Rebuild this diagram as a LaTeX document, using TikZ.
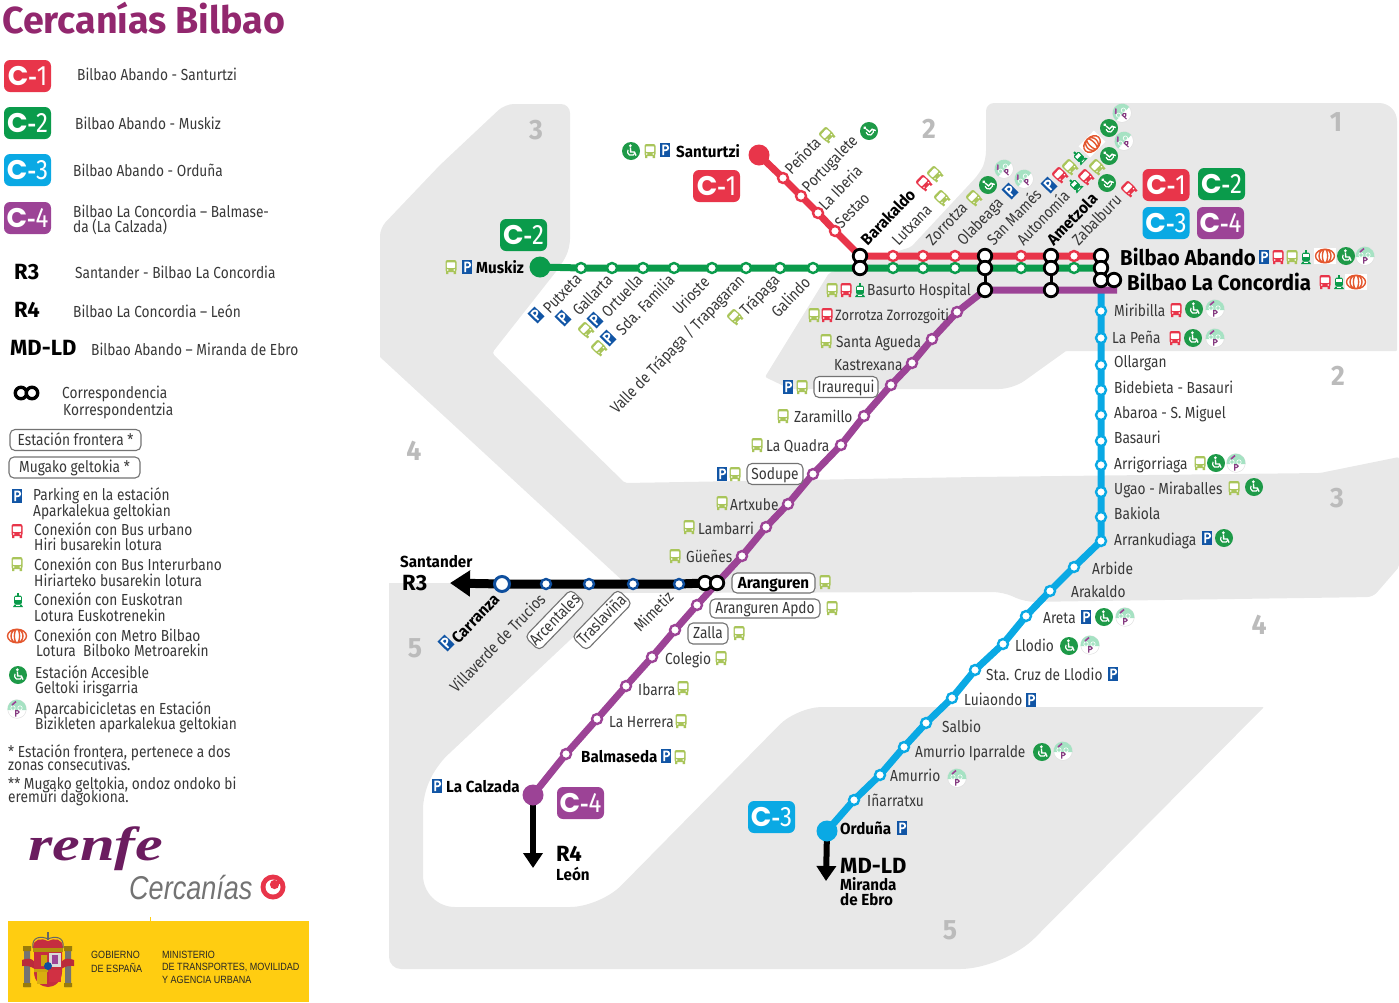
\documentclass[tikz,border=0pt]{standalone}
\usepackage{fontspec}
\usetikzlibrary{arrows.meta,backgrounds}
\setmainfont{Fira Sans}[UprightFeatures={FakeStretch=0.857},BoldFeatures={FakeStretch=0.95}]
\newfontfamily\heavy{Fira Sans}
\newfontfamily\badgeC{Poppins}
\newfontfamily\logoA{Liberation Serif}[FakeStretch=1.3]
\newfontfamily\logoB{Liberation Sans}[FakeStretch=0.82]
\newfontfamily\govt{Liberation Sans}[FakeStretch=0.86]
\definecolor{cA}{HTML}{E8354A}
\definecolor{cB}{HTML}{0A9B4B}
\definecolor{cC}{HTML}{0AA9E4}
\definecolor{cD}{HTML}{9C4396}
\definecolor{cR}{HTML}{0F4F9E}
\definecolor{zone}{HTML}{E8E8E8}
\definecolor{zonum}{HTML}{BBBBBB}
\definecolor{gb}{HTML}{A9C55A}
\definecolor{rb}{HTML}{E8354A}
\definecolor{txt}{HTML}{383838}
\definecolor{met}{HTML}{E4572E}
\definecolor{acg}{HTML}{1E9A48}
\definecolor{pkb}{HTML}{1155A5}
\definecolor{ttl}{HTML}{92276E}
\definecolor{rnf}{HTML}{6B1C5F}
\definecolor{gov}{HTML}{FFCD11}
\newcommand\badge[4]{\node[badgebox,fill=#2] (#1) at (#3,#4) {{\badgeC\bfseries\fontsize{27}{27}\selectfont C}{\fontsize{22}{22}\selectfont\bfseries -}{\fontsize{28}{28}\selectfont\badgenum}};}
\newcommand\badgenum{}
\newcommand\LW[4]{\node[lbl,anchor=west] (#1) at (#2,#3) {#4};}
\newcommand\BW[4]{\node[lbl,font=\fontsize{16}{16}\selectfont\bfseries,text=black,anchor=west] (#1) at (#2,#3) {#4};}
\newcommand\RL[4]{\node[lbl,anchor=east,rotate=46] (#1) at (#2,#3) {#4};}
\newcommand\RS[4]{\node[lbl,anchor=west,rotate=46] (#1) at (#2,#3) {#4};}
\newcommand\ic[4][0]{\pic[rotate=#1] at (#3,#4) {#2};}
\newcommand\stA[4]{\node[#2] (#1) at (#3,#4) {};}
\tikzset{
 lbl/.style={inner sep=0pt,text=txt,font=\fontsize{16}{16}\selectfont,text height=12.5pt,text depth=2.5pt},
 leg/.style={lbl,anchor=west},
 big/.style={lbl,anchor=west,text=black,font=\heavy\bfseries\fontsize{22}{22}\selectfont,text height=17pt,text depth=2pt},
 bigname/.style={lbl,anchor=west,text=black,font=\bfseries\fontsize{21.5}{21.5}\selectfont,text height=17pt,text depth=2pt},
 znum/.style={inner sep=0pt,text=zonum,font=\fontsize{28}{28}\selectfont\bfseries},
 badgebox/.style={rounded corners=6pt,minimum width=47pt,minimum height=32pt,inner sep=0pt,text=white},
 framed/.style={lbl,draw=black!55,line width=1.1pt,rounded corners=5pt,fill=white,inner sep=0pt},
 st/.style={circle,fill=white,draw=#1,line width=2.4pt,minimum size=10pt,inner sep=0pt},
 term/.style={circle,fill=#1,minimum size=21pt,inner sep=0pt},
 xf/.style={circle,draw=black,fill=white,line width=2.8pt,minimum size=13.5pt,inner sep=0pt},
 xi/.style={circle,fill=white,minimum size=7.5pt,inner sep=0pt},
 rail/.style={line width=#1,line cap=butt,line join=round},
 pics/bus/.style={code={
  \fill[#1,rounded corners=2pt] (-5.5pt,-5pt) rectangle (5.5pt,7pt);
  \fill[#1] (-5pt,-7pt) rectangle (-2.6pt,-4pt) (2.6pt,-7pt) rectangle (5pt,-4pt);
  \fill[white,rounded corners=.6pt] (-4.1pt,-.8pt) rectangle (4.1pt,4.6pt);
  \fill[white] (-3.2pt,-3pt) circle (.9pt) (3.2pt,-3pt) circle (.9pt);
 }},
 pics/tram/.style={code={
  \fill[cB,rounded corners=1.5pt] (-3.8pt,-4.5pt) rectangle (3.8pt,4.5pt);
  \fill[cB] (-1pt,4pt) rectangle (1pt,7pt);
  \fill[cB] (-5pt,-7pt) -- (5pt,-7pt) -- (3.5pt,-4.5pt) -- (-3.5pt,-4.5pt) -- cycle;
  \fill[white] (-2.6pt,-.3pt) rectangle (2.6pt,3pt);
  \fill[white] (-1.8pt,-6pt) rectangle (1.8pt,-5.2pt);
 }},
 pics/metro/.style={code={
  \fill[white] (-11pt,-8pt) rectangle (11pt,8pt);
  \draw[met,line width=1.4pt] (0,0) ellipse (9.5pt and 6.8pt) (0,0) ellipse (6pt and 6.8pt) (0,0) ellipse (2.6pt and 6.8pt);
 }},
 pics/pk/.style={code={
  \fill[pkb] (-5pt,-7pt) rectangle (5pt,7pt);
  \draw[white,line width=1.8pt] (-1.8pt,-5.2pt) -- (-1.8pt,4.6pt) -- (.8pt,4.6pt) arc[start angle=90,end angle=-90,radius=2.4pt] -- (-1.8pt,-.2pt);
 }},
 pics/acc/.style={code={
  \fill[acg] (0,0) circle (9pt);
  \fill[white] (-.6pt,5.3pt) circle (1.5pt);
  \draw[white,line width=1.4pt] (-.6pt,3.5pt) -- (-.3pt,-1pt) -- (3.4pt,-1pt) -- (5pt,-4.6pt);
  \draw[white,line width=1.2pt] (-3pt,1.2pt) arc[start angle=150,end angle=335,radius=3.8pt];
 }},
 pics/bike/.style={code={
  \fill[black!12] (0,0) circle (9.6pt);
  \fill[white] (0,0) circle (9pt);
  \fill[green!35!teal!35!white] (-9.4pt,-1pt) arc[start angle=186,end angle=-6,radius=9.4pt] -- cycle;
  \draw[white,line width=.6pt] (-4pt,1pt) circle (2.2pt) (3pt,1pt) circle (2.2pt);
  \draw[cD,line width=1.6pt] (-5pt,4pt) -- (-1pt,7.5pt);
  \draw[cD!85!black,line width=1.1pt] (-1.3pt,-7.5pt) -- (-1.3pt,-1.6pt) -- (.6pt,-1.6pt) arc[start angle=90,end angle=-90,radius=1.5pt] -- (-1.3pt,-4.6pt);
 }},
}
\begin{document}
\begin{tikzpicture}[x=1pt,y=-1pt]
\useasboundingbox (0,0) rectangle (1399,1002);
% ---------- zones
\begin{scope}[on background layer]
\fill[zone,rounded corners=9pt] (440,165) -- (505,104) -- (570,104) -- (570,248) -- (562,264) [rounded corners=3pt] -- (492,353) [rounded corners=2pt] -- (625,483) -- (975,477) -- (1320,473) -- (1399,457) -- (1399,567) [rounded corners=6pt] -- (1373,597) [rounded corners=10pt] -- (1025,602) -- (1003,592) [rounded corners=1pt] -- (620,593) [rounded corners=14pt] -- (437,765) -- (423,795) [rounded corners=32pt] -- (423,907) [rounded corners=30pt] -- (600,907) [rounded corners=25pt] -- (797,707) [rounded corners=1pt] -- (1264,707) [rounded corners=44pt] -- (1004,969) [rounded corners=12pt] -- (389,969) [rounded corners=0pt] -- (389,583) -- (625,583) -- (380,357) [rounded corners=8pt] -- (380,228) -- cycle;
\fill[zone,rounded corners=3pt] (986,130) [rounded corners=8pt] -- (986,103) [rounded corners=18pt] -- (1397,103) [rounded corners=1pt] -- (1397,351) -- (1066,351) [rounded corners=14pt] -- (1013,389) [rounded corners=2pt] -- (790,389) -- (765,377) -- (829,273) -- (911,247) [rounded corners=9pt] -- (980,173) -- (986,160) -- cycle;
\end{scope}
\node[znum] (za) at (536,130) {3};
\node[znum] (zb) at (929,129) {2};
\node[znum] (zc) at (1336,122) {1};
\node[znum] (zd) at (1338,376) {2};
\node[znum] (ze) at (1337,498) {3};
\node[znum] (zf) at (414,451) {4};
\node[znum] (zg) at (1259,625) {4};
\node[znum] (zh) at (415,648) {5};
\node[znum] (zi) at (950,930) {5};
% ---------- stations C1
\node[term=cA] (santurtzi) at (759,155) {};
\stA{penota}{st=cA}{783}{178}
\stA{portugalete}{st=cA}{801}{196}
\stA{iberia}{st=cA}{818}{213}
\stA{sestao}{st=cA}{835}{231}
\stA{lutxana}{st=cA}{893}{256}
\stA{zorrotza}{st=cA}{923}{256}
\stA{olabeaga}{st=cA}{955}{256}
\stA{autonomia}{st=cA}{1021}{256}
\stA{zabalburu}{st=cA}{1074}{256}
% ---------- stations C2
\node[term=cB] (muskiz) at (540,267) {};
\stA{putxeta}{st=cB}{581}{268}
\stA{gallarta}{st=cB}{612}{268}
\stA{ortuella}{st=cB}{643}{268}
\stA{familia}{st=cB}{674}{268}
\stA{urioste}{st=cB}{712}{268}
\stA{valle}{st=cB}{746}{268}
\stA{trapaga}{st=cB}{780}{268}
\stA{galindo}{st=cB}{813}{268}
\stA{lutxanaB}{st=cB}{893}{268}
\stA{zorrotzaB}{st=cB}{923}{268}
\stA{olabeagaB}{st=cB}{955}{268}
\stA{autonomiaB}{st=cB}{1021}{268}
\stA{zabalburuB}{st=cB}{1074}{268}
% ---------- stations C4
\stA{zorrozgoiti}{st=cD}{957}{312}
\stA{agueda}{st=cD}{932}{339}
\stA{kastrexana}{st=cD}{912}{363}
\stA{iraurequi}{st=cD}{891}{385}
\stA{zaramillo}{st=cD}{864}{416}
\stA{quadra}{st=cD}{841}{445}
\stA{sodupe}{st=cD}{813}{474}
\stA{artxube}{st=cD}{788}{504}
\stA{lambarri}{st=cD}{766}{527}
\stA{guenes}{st=cD}{742}{556}
\stA{apdo}{st=cD}{697}{605}
\stA{zalla}{st=cD}{675}{630}
\stA{colegio}{st=cD}{652}{657}
\stA{ibarra}{st=cD}{626}{686}
\stA{herrera}{st=cD}{597}{719}
\stA{balmaseda}{st=cD}{566}{754}
\node[term=cD] (calzada) at (533,795) {};
% ---------- stations C3
\stA{miribilla}{st=cC}{1101}{311}
\stA{pena}{st=cC}{1101}{338}
\stA{ollargan}{st=cC}{1101}{365}
\stA{bidebieta}{st=cC}{1101}{390}
\stA{abaroa}{st=cC}{1101}{415}
\stA{basauri}{st=cC}{1101}{441}
\stA{arrigorriaga}{st=cC}{1101}{465}
\stA{ugao}{st=cC}{1101}{492}
\stA{bakiola}{st=cC}{1101}{517}
\stA{arrankudiaga}{st=cC}{1101}{541}
\stA{arbide}{st=cC}{1074}{567}
\stA{arakaldo}{st=cC}{1050}{591}
\stA{areta}{st=cC}{1026}{616}
\stA{llodio}{st=cC}{1003}{644}
\stA{stacruz}{st=cC}{975}{670}
\stA{luiaondo}{st=cC}{952}{698}
\stA{salbio}{st=cC}{926}{723}
\stA{iparralde}{st=cC}{904}{747}
\stA{amurrio}{st=cC}{880}{775}
\stA{inarratxu}{st=cC}{854}{800}
\node[term=cC] (orduna) at (827,831) {};
% ---------- stations R3
\node[st=cR,minimum size=15pt,line width=3pt] (carranza) at (502,584) {};
\stA{villaverde}{st=cR}{546}{584}
\stA{arcentales}{st=cR}{589}{584}
\stA{traslavina}{st=cR}{633}{584}
\stA{mimetiz}{st=cR}{679}{584}
% ---------- interchanges
\node[xf] (baraA) at (860,256) {};
\node[xf] (baraB) at (860,268) {};
\node[xf] (basA) at (985,256) {};
\node[xf] (basB) at (985,268) {};
\node[xf] (basC) at (985,290) {};
\node[xf] (ameA) at (1051,256) {};
\node[xf] (ameB) at (1051,268) {};
\node[xf] (ameC) at (1051,290) {};
\node[xf] (abaA) at (1101,256) {};
\node[xf] (abaB) at (1101,268) {};
\node[xf] (abaC) at (1101,280) {};
\node[xf] (conc) at (1114,280) {};
\node[xf] (aranA) at (705,583) {};
\node[xf] (aranB) at (717,583) {};
\node[xf,line width=3.4pt,minimum size=11.5pt] (legA) at (21,393) {};
\node[xf,line width=3.4pt,minimum size=11.5pt] (legB) at (32,393) {};
\foreach \n in {baraA,baraB,basA,basB,ameA,ameB,abaA,abaB,abaC,aranA,aranB}{\node[xi] at (\n) {};}
\node[xi,minimum size=6pt] at (legA) {};
\node[xi,minimum size=6pt] at (legB) {};
\coordinate (r3tip) at (450,583);
\coordinate (r4tip) at (533,868);
\coordinate (mdtip) at (826,881);
\coordinate (c4end) at (1117,290);
\draw[black,line width=3pt] (basB) -- (basC);
\draw[black,line width=3pt] (ameB) -- (ameC);
% ---------- lines
\begin{scope}[on background layer]
\draw[rail=7pt,cC] (abaC.center) -- (miribilla.center) -- (pena.center) -- (ollargan.center) -- (bidebieta.center) -- (abaroa.center) -- (basauri.center) -- (arrigorriaga.center) -- (ugao.center) -- (bakiola.center) -- (arrankudiaga.center) -- (arbide.center) -- (arakaldo.center) -- (areta.center) -- (llodio.center) -- (stacruz.center) -- (luiaondo.center) -- (salbio.center) -- (iparralde.center) -- (amurrio.center) -- (inarratxu.center) -- (orduna.center);
\draw[rail=7pt,cD] (c4end) -- (basC.center) -- (zorrozgoiti.center) -- (agueda.center) -- (kastrexana.center) -- (iraurequi.center) -- (zaramillo.center) -- (quadra.center) -- (sodupe.center) -- (artxube.center) -- (lambarri.center) -- (guenes.center) -- (aranB.center) -- (apdo.center) -- (zalla.center) -- (colegio.center) -- (ibarra.center) -- (herrera.center) -- (balmaseda.center) -- (calzada.center);
\draw[rail=7pt,cA] (santurtzi.center) -- (penota.center) -- (portugalete.center) -- (iberia.center) -- (sestao.center) -- (baraA.center) -- (lutxana.center) -- (zorrotza.center) -- (olabeaga.center) -- (basA.center) -- (autonomia.center) -- (ameA.center) -- (zabalburu.center) -- (abaA.center);
\draw[rail=7pt,cB] (muskiz.center) -- (putxeta.center) -- (gallarta.center) -- (ortuella.center) -- (familia.center) -- (urioste.center) -- (valle.center) -- (trapaga.center) -- (galindo.center) -- (baraB.center) -- (lutxanaB.center) -- (zorrotzaB.center) -- (olabeagaB.center) -- (basB.center) -- (autonomiaB.center) -- (ameB.center) -- (zabalburuB.center) -- (abaB.center);
\draw[line width=9pt,black,-{Triangle[width=25pt,length=20pt]}] (aranA.center) -- (mimetiz.center) -- (traslavina.center) -- (arcentales.center) -- (villaverde.center) -- (carranza.center) -- (r3tip);
\draw[line width=6.5pt,black,-{Triangle[width=19pt,length=15pt]}] (calzada.center) -- (r4tip);
\draw[line width=6pt,black,-{Triangle[width=19pt,length=15pt]}] (orduna.center) -- (mdtip);
\end{scope}
% ---------- title and legend
\node[inner sep=0pt,anchor=west,text=ttl,font=\heavy\bfseries\fontsize{37.6}{38}\selectfont] (title) at (2,18.5) {Cercanías Bilbao};
\renewcommand\badgenum{1}\badge{lgA}{cA}{27.5}{76}
\renewcommand\badgenum{2}\badge{lgB}{cB}{27.5}{123}
\renewcommand\badgenum{3}\badge{lgC}{cC}{27.5}{170}
\renewcommand\badgenum{4}\badge{lgD}{cD}{27.5}{218}
\node[leg] (t1) at (77,75) {Bilbao Abando - Santurtzi};
\node[leg] (t2) at (75,124) {Bilbao Abando - Muskiz};
\node[leg] (t3) at (73,171) {Bilbao Abando - Orduña};
\node[leg] (t4) at (73,212) {Bilbao La Concordia – Balmase-};
\node[leg] (t5) at (73,227) {da (La Calzada)};
\node[big] (t6) at (14,272) {R3};
\node[leg] (t7) at (75,273) {Santander - Bilbao La Concordia};
\node[big] (t8) at (14,310) {R4};
\node[leg] (t9) at (73,312) {Bilbao La Concordia – León};
\node[big] (t10) at (10,348) {MD-LD};
\node[leg] (t11) at (91,350) {Bilbao Abando – Miranda de Ebro};
\node[leg] (t12) at (62,393) {Correspondencia};
\node[leg] (t13) at (63,410) {Korrespondentzia};
\node[framed,minimum width=131pt,minimum height=21pt] (t14) at (75.5,440) {Estación frontera *};
\node[framed,minimum width=131pt,minimum height=21pt] (t15) at (74.5,467.5) {Mugako geltokia *};
\ic{pk}{17}{496}
\node[leg] (t16) at (33,495) {Parking en la estación};
\node[leg] (t17) at (33,511) {Aparkalekua geltokian};
\ic{bus=rb}{17}{531}
\node[leg] (t18) at (34,530) {Conexión con Bus urbano};
\node[leg] (t19) at (34,545) {Hiri busarekin lotura};
\ic{bus=gb}{17}{564}
\node[leg] (t20) at (34,565) {Conexión con Bus Interurbano};
\node[leg] (t21) at (34,581) {Hiriarteko busarekin lotura};
\ic{tram}{18}{600}
\node[leg] (t22) at (34,600) {Conexión con Euskotran};
\node[leg] (t23) at (34,616) {Lotura Euskotrenekin};
\ic{metro}{17}{636}
\node[leg] (t24) at (34,636) {Conexión con Metro Bilbao};
\node[leg] (t25) at (36,651) {Lotura\ \ Bilboko Metroarekin};
\ic{acc}{18}{675}
\node[leg] (t26) at (35,673) {Estación Accesible};
\node[leg] (t27) at (35,688) {Geltoki irisgarria};
\ic{bike}{17}{709}
\node[leg] (t28) at (35,709) {Aparcabicicletas en Estación};
\node[leg] (t29) at (35,724) {Bizikleten aparkalekua geltokian};
\node[leg] (t30) at (8,752) {* Estación frontera, pertenece a dos};
\node[leg] (t31) at (8,765) {zonas consecutivas.};
\node[leg] (t32) at (8,784) {** Mugako geltokia, ondoz ondoko bi};
\node[leg] (t33) at (8,797) {eremuri dagokiona.};
% ---------- logos
\node[inner sep=0pt,anchor=base west,text=rnf,font=\logoA\fontsize{48}{48}\selectfont\bfseries\itshape] (renfe) at (28,860) {renfe};
\node[inner sep=0pt,anchor=base west,text=black!55,font=\logoB\fontsize{33}{33}\selectfont\itshape] (cerc) at (129,899) {Cercanías};
\fill[cA] (273,887) circle (12.5pt);
\fill[white] (273,887) circle (7.5pt);
\fill[cA] (274.5,884.5) circle (4.6pt);
\fill[cA] (277,880) rectangle (283,884);
\fill[gov] (8,921) rectangle (309,1002);
\fill[gov] (150,917) rectangle (151,921);
% coat of arms
\fill[black!55] (24,950) rectangle (30,987) (65,950) rectangle (71,987);
\fill[gov!60!black] (23,946) rectangle (31,951) (64,946) rectangle (72,951) (23,983) rectangle (31,987) (64,983) rectangle (72,987);
\fill[cA!80!black] (22,960) .. controls (32,956) and (36,962) .. (36,966) -- (36,970) .. controls (30,965) and (26,966) .. (22,966) -- cycle;
\fill[cA!80!black] (74,960) .. controls (64,956) and (60,962) .. (60,966) -- (60,970) .. controls (66,965) and (70,966) .. (74,966) -- cycle;
\fill[cA!85!black] (34,952) rectangle (62,972) (34,972) -- (62,972) .. controls (62,982) and (54,987) .. (48,987) .. controls (42,987) and (34,982) .. (34,972) -- cycle;
\fill[gov!80!black] (34,969) rectangle (48,972) (41,955) rectangle (47,966);
\fill[white!85!black] (49,953) rectangle (61,967);
\fill[cD] (52,955) rectangle (58,964);
\fill[gov!85!black] (37,972) rectangle (47,984);
\fill[cA!90!black] (49,970) rectangle (61,982);
\fill[cR] (48,966) circle (4pt);
\fill[cA!85!black] (33,948) .. controls (33,938) and (42,938) .. (48,941) .. controls (54,938) and (63,938) .. (63,948) -- cycle;
\fill[gov!70!black] (33,948) rectangle (63,952);
\draw[black!60,line width=1pt] (33,948) .. controls (31,936) and (42,936) .. (48,939) .. controls (54,936) and (65,936) .. (63,948);
\fill[black!60] (47,932) rectangle (49,940);
\node[inner sep=0pt,anchor=west,text=black!85,font=\govt\fontsize{10.5}{10.5}\selectfont] (go1) at (91,955) {GOBIERNO};
\node[inner sep=0pt,anchor=west,text=black!85,font=\govt\fontsize{10.5}{10.5}\selectfont] (go2) at (91,968) {DE ESPAÑA};
\node[inner sep=0pt,anchor=west,text=black!85,font=\govt\fontsize{10.5}{10.5}\selectfont] (go3) at (162,955) {MINISTERIO};
\node[inner sep=0pt,anchor=west,text=black!85,font=\govt\fontsize{10.5}{10.5}\selectfont] (go4) at (162,967) {DE TRANSPORTES, MOVILIDAD};
\node[inner sep=0pt,anchor=west,text=black!85,font=\govt\fontsize{10.5}{10.5}\selectfont] (go5) at (162,980) {Y AGENCIA URBANA};
% ---------- map badges
\renewcommand\badgenum{1}\badge{bA}{cA}{716.5}{186}
\renewcommand\badgenum{2}\badge{bB}{cB}{523.5}{235}
\renewcommand\badgenum{3}\badge{bC}{cC}{771.5}{817}
\renewcommand\badgenum{4}\badge{bD}{cD}{580.5}{803}
\renewcommand\badgenum{1}\badge{bE}{cA}{1166}{185}
\renewcommand\badgenum{2}\badge{bF}{cB}{1221.5}{184}
\renewcommand\badgenum{3}\badge{bG}{cC}{1166}{223}
\renewcommand\badgenum{4}\badge{bH}{cD}{1220.5}{223}
% ---------- C1 labels
\ic{acc}{631}{151}\ic{bus=gb}{650}{151}\ic{pk}{665}{150}
\BW{lSant}{676}{152}{Santurtzi}
\RS{lPen}{788}{172}{Peñota}
\ic[46]{bus=gb}{827}{135}
\RS{lPor}{805}{190}{Portugalete}
\ic[46]{acc}{869}{131}
\RS{lIbe}{822}{208}{La Iberia}
\RS{lSes}{838}{226}{Sestao}
\node[lbl,font=\fontsize{16}{16}\selectfont\bfseries,text=black,anchor=west,rotate=46] (lBar) at (864,243) {Barakaldo};
\ic[46]{bus=rb}{924}{183}\ic[46]{bus=gb}{935}{174}
\RS{lLut}{895}{243}{Lutxana}
\ic[46]{bus=gb}{942}{198}
\RS{lZor}{929}{243}{Zorrotza}
\ic[46]{bus=gb}{974}{198}\ic[46]{acc}{988}{185}\ic[46]{bike}{1004}{169}
\RS{lOla}{960}{243}{Olabeaga}
\ic[46]{pk}{1010}{191}\ic[46]{bike}{1024}{179}
\RS{lSan}{990}{243}{San Mamés}
\ic[46]{pk}{1049}{185}\ic[46]{bus=rb}{1060}{175}\ic[46]{bus=gb}{1070}{167}\ic[46]{tram}{1079}{157}\ic[46]{metro}{1092}{144}\ic[46]{acc}{1109}{128}\ic[46]{bike}{1122}{113}
\RS{lAut}{1020}{243}{Autonomía}
\ic[46]{tram}{1075}{185}\ic[46]{bus=rb}{1086}{177}\ic[46]{bus=gb}{1097}{167}\ic[46]{acc}{1109}{156}\ic[46]{bike}{1124}{141}
\node[lbl,font=\fontsize{16}{16}\selectfont\bfseries,text=black,anchor=west,rotate=46] (lAme) at (1050,243) {Ametzola};
\ic[46]{acc}{1107}{183}
\RS{lZab}{1075}{243}{Zabalburu}
\ic[46]{bus=rb}{1129}{189}
% ---------- Bilbao terminals
\node[bigname] (lAba) at (1120,258) {Bilbao Abando};
\ic{pk}{1264}{257}\ic{bus=rb}{1278}{257}\ic{bus=gb}{1292}{257}\ic{tram}{1306}{257}\ic{metro}{1325}{256}\ic{acc}{1346}{256}\ic{bike}{1365}{256}
\node[bigname] (lCon) at (1127,283) {Bilbao La Concordia};
\ic{bus=rb}{1325}{282}\ic{tram}{1339}{282}\ic{metro}{1356}{282}
% ---------- C2 labels
\ic{bus=gb}{451}{267}\ic{pk}{467}{267}
\BW{lMus}{476}{268}{Muskiz}
\RL{lPut}{579}{277}{Putxeta}
\ic[46]{pk}{536}{315}
\RL{lGal}{610}{278}{Gallarta}
\ic[46]{pk}{563}{318}
\RL{lOrt}{640}{278}{Ortuella}
\ic[46]{pk}{595}{320}\ic[46]{bus=gb}{586}{330}
\RL{lFam}{672}{278}{Sda. Familia}
\ic[46]{pk}{608}{338}\ic[46]{bus=gb}{599}{348}
\RL{lUri}{707}{280}{Urioste}
\RL{lVal}{742}{278}{Valle de Trápaga / Trapagaran}
\RL{lTra}{777}{278}{Trápaga}
\ic[46]{bus=gb}{735}{317}
\RL{lGali}{808}{280}{Galindo}
% ---------- C4 labels
\ic{bus=gb}{832}{290}\ic{bus=rb}{846}{290}\ic{tram}{860}{290}
\LW{lBas}{867}{290}{Basurto Hospital}
\ic{bus=gb}{814}{315}\ic{bus=rb}{827}{315}
\node[lbl,anchor=west,font=\fontsize{15}{15}\selectfont] (lZoz) at (835,315) {Zorrotza Zorrozgoiti};
\ic{bus=gb}{826}{341}
\LW{lAgu}{836}{342}{Santa Agueda}
\LW{lKas}{834}{365}{Kastrexana}
\ic{pk}{788}{387}\ic{bus=gb}{802}{387}
\node[framed,minimum width=64pt,minimum height=21pt] (lIra) at (846,387) {Iraurequi};
\ic{bus=gb}{783}{416}
\LW{lZar}{794}{417}{Zaramillo}
\ic{bus=gb}{757}{445}
\LW{lQua}{766}{446}{La Quadra}
\ic{pk}{722}{474}\ic{bus=gb}{735}{474}
\node[framed,minimum width=56pt,minimum height=21pt] (lSod) at (775,474) {Sodupe};
\ic{bus=gb}{722}{503}
\LW{lArt}{730}{505}{Artxube}
\ic{bus=gb}{689}{527}
\LW{lLam}{698}{529}{Lambarri}
\ic{bus=gb}{675}{556}
\LW{lGue}{686}{557}{Güeñes}
\node[framed,font=\fontsize{16}{16}\selectfont\bfseries,text=black,minimum width=83pt,minimum height=20pt] (lAra) at (773.5,583) {Aranguren};
\ic{bus=gb}{825}{582}
\node[framed,minimum width=110pt,minimum height=19pt] (lApd) at (765,608.5) {Aranguren Apdo};
\ic{bus=gb}{832}{608}
\node[framed,minimum width=40pt,minimum height=21pt] (lZal) at (708,633.5) {Zalla};
\ic{bus=gb}{739}{633}
\LW{lCol}{665}{659}{Colegio}
\ic{bus=gb}{721}{658}
\LW{lIba}{638}{690}{Ibarra}
\ic{bus=gb}{683}{688}
\LW{lHer}{609}{722}{La Herrera}
\ic{bus=gb}{681}{721}
\BW{lBal}{581}{757}{Balmaseda}
\ic{pk}{666}{756}\ic{bus=gb}{680}{757}
\ic{pk}{437}{786}
\BW{lCal}{446}{787}{La Calzada}
\node[big] (lRf) at (556,854) {R4};
\BW{lLeo}{556}{875}{León}
% ---------- R3 labels
\BW{lSdr}{400}{562}{Santander}
\node[big] (lRt) at (402,583) {R3};
\node[lbl,font=\fontsize{16}{16}\selectfont\bfseries,text=black,anchor=east,rotate=46] (lCar) at (497,597) {Carranza};
\ic[46]{pk}{446}{643}
\RL{lVil}{543}{597}{Villaverde de Trucios}
\node[framed,minimum width=66pt,minimum height=20pt,rotate=46] (lArc) at (555,620) {Arcentales};
\node[framed,minimum width=66pt,minimum height=20pt,rotate=46] (lTrs) at (602,620) {Traslaviña};
\node[lbl,rotate=46] (lMim) at (654,612) {Mimetiz};
% ---------- C3 labels
\LW{lMir}{1114}{311}{Miribilla}
\ic{bus=rb}{1176}{310}\ic{acc}{1194}{309}\ic{bike}{1215}{309}
\LW{lPen2}{1112}{338}{La Peña}
\ic{bus=rb}{1175}{338}\ic{acc}{1193}{338}\ic{bike}{1215}{338}
\LW{lOll}{1114}{362}{Ollargan}
\LW{lBid}{1114}{388}{Bidebieta - Basauri}
\LW{lAbr}{1114}{413}{Abaroa - S. Miguel}
\LW{lBsr}{1114}{438}{Basauri}
\LW{lArr}{1114}{464}{Arrigorriaga}
\ic{bus=gb}{1200}{463}\ic{acc}{1216}{463}\ic{bike}{1236}{463}
\LW{lUga}{1114}{489}{Ugao - Miraballes}
\ic{bus=gb}{1234}{488}\ic{acc}{1254}{487}
\LW{lBak}{1114}{514}{Bakiola}
\LW{lArk}{1114}{540}{Arrankudiaga}
\ic{pk}{1207}{538}\ic{acc}{1224}{538}
\LW{lArb}{1092}{569}{Arbide}
\LW{lAkl}{1071}{592}{Arakaldo}
\LW{lAre}{1043}{618}{Areta}
\ic{pk}{1086}{617}\ic{acc}{1104}{617}\ic{bike}{1125}{617}
\LW{lLlo}{1015}{646}{Llodio}
\ic{acc}{1069}{646}\ic{bike}{1090}{645}
\LW{lSta}{986}{675}{Sta. Cruz de Llodio}
\ic{pk}{1113}{674}
\LW{lLui}{964}{700}{Luiaondo}
\ic{pk}{1031}{700}
\LW{lSal}{942}{727}{Salbio}
\LW{lIpa}{915}{752}{Amurrio Iparralde}
\ic{acc}{1042}{752}\ic{bike}{1063}{751}
\LW{lAmu}{890}{776}{Amurrio}
\ic{bike}{957}{778}
\LW{lIna}{867}{801}{Iñarratxu}
\BW{lOrd}{840}{829}{Orduña}
\ic{pk}{902}{828}
\node[big] (lMd) at (840,866) {MD-LD};
\BW{lMir2}{840}{885}{Miranda}
\BW{lEbr}{840}{900}{de Ebro}
\end{tikzpicture}
\end{document}
